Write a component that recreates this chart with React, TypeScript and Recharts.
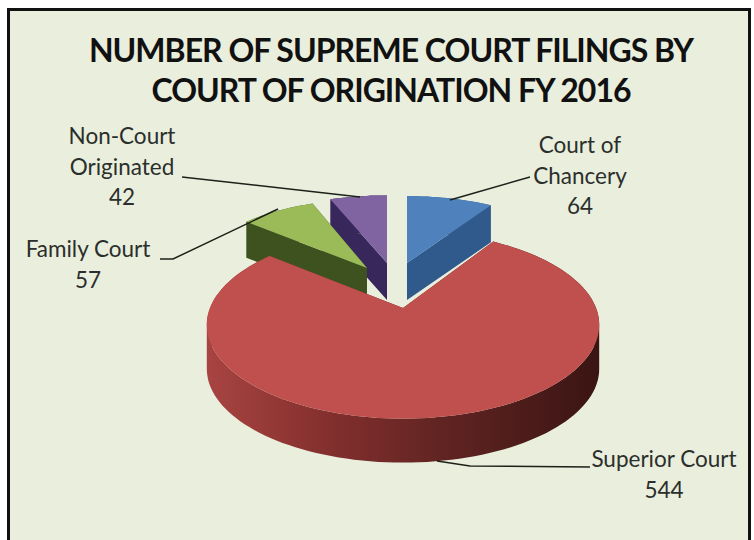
// SupremeCourtFilings.tsx
import { PieChart, Pie } from "recharts";

// order is the paint order, back slices first, superior court last
const categories = ["Court of Chancery", "Non-Court Originated", "Family Court", "Superior Court"];
const filings = [64, 42, 57, 544];
const colors = ["#4f81bd", "#8064a2", "#9bbb59", "#c0504d"];
const sideColors = ["#30598c", "#38275a", "#3e5220", "url(#redSide)"];
const labelLines = [["Court of", "Chancery"], ["Non-Court", "Originated"], ["Family Court"], ["Superior Court"]];

const data = categories.map((name, i) => ({ name, value: filings[i], index: i }));
const total = filings.reduce((a, b) => a + b, 0);
// blue starts at 12 o'clock and the pie runs clockwise, drawn here in reverse
const startAngle = 90 - (360 * filings[0]) / total;

// how each slice is pulled out of the pie
const explode = [
  { dx: 4, dy: -45, sx: 0.93, sy: 0.87, depth: 37 },
  { dx: -16, dy: -45, sx: 0.94, sy: 0.88, depth: 37 },
  { dx: -36, dy: -40, sx: 0.905, sy: 0.89, depth: 36 },
  { dx: 0, dy: 0, sx: 1, sy: 1, depth: 44 },
];

const labelPos = [
  { x: 580, y: 146, line: "530,177 450,200" },
  { x: 122, y: 137, line: "182,177 360,197" },
  { x: 88, y: 250, line: "160,259 173,259 278,209" },
  { x: 664, y: 460, line: "590,467 470,466 437,461" },
];

const TILT = 0.47;
const PERSPECTIVE = 0.18;

const toPath = (pts: number[][]) =>
  pts.map((p, i) => `${i ? "L" : "M"}${p[0].toFixed(1)} ${p[1].toFixed(1)}`).join(" ") + " Z";

function Slice3D(props: any) {
  const { cx, cy, outerRadius, startAngle: a0, endAngle: a1, fill, payload } = props;
  const ex = explode[payload.index];
  const project = (deg: number) => {
    const rad = (deg * Math.PI) / 180;
    const u = Math.cos(rad);
    const v = Math.sin(rad);
    const w = 1 + PERSPECTIVE * v;
    return [
      cx + ex.dx + (ex.sx * outerRadius * u) / w,
      cy + ex.dy - (ex.sy * outerRadius * TILT * v) / w,
    ];
  };
  const steps = Math.max(4, Math.ceil(Math.abs(a1 - a0) / 2));
  const outline = [[cx + ex.dx, cy + ex.dy]];
  for (let i = 0; i <= steps; i++) outline.push(project(a0 + ((a1 - a0) * i) / steps));

  // every edge pushed down by the depth, as one path so the gradient has no seams.
  // left to right edges keep their order, the others flip, so the quads all wind the same way
  const sides = outline
    .map((p, i) => {
      const q = outline[(i + 1) % outline.length];
      const [a, b] = p[0] <= q[0] ? [p, q] : [q, p];
      return toPath([a, b, [b[0], b[1] + ex.depth], [a[0], a[1] + ex.depth]]);
    })
    .join(" ");

  return (
    <g>
      <path d={sides} fill={sideColors[payload.index]} />
      <path d={toPath(outline)} fill={fill} />
    </g>
  );
}

function SliceLabel(props: any) {
  const i = props.payload?.index ?? props.index;
  const pos = labelPos[i];
  const lines = [...labelLines[i], String(filings[i])];
  return (
    <g>
      <polyline points={pos.line} fill="none" stroke="#1c2018" strokeWidth={1.5} />
      {lines.map((t, n) => (
        <text
          key={n}
          x={pos.x}
          y={pos.y + n * 30.5 + 7}
          textAnchor="middle"
          fontFamily="Lato, sans-serif"
          fontSize={22.5}
          fill="#2b2f2c"
        >
          {t}
        </text>
      ))}
    </g>
  );
}

export default function App() {
  return (
    <div style={{ position: "absolute", left: 0, top: 0, width: 754, height: 540, background: "#fff", overflow: "hidden" }}>
      <div
        style={{
          position: "absolute",
          left: 7,
          top: 8,
          width: 738,
          height: 560,
          background: "#eaeedd",
          border: "3px solid #111",
        }}
      />
      <div
        style={{
          position: "absolute",
          left: 0,
          top: 30,
          width: 782,
          textAlign: "center",
          fontFamily: "Lato, sans-serif",
          fontWeight: 700,
          fontSize: 32,
          lineHeight: "40px",
          color: "#111",
          letterSpacing: -1,
        }}
      >
        NUMBER OF SUPREME COURT FILINGS BY
        <br />
        COURT OF ORIGINATION FY 2016
      </div>
      <div style={{ position: "absolute", left: 0, top: 0 }}>
        <PieChart width={754} height={540} margin={{ top: 0, right: 0, bottom: 0, left: 0 }}>
          <defs>
            <linearGradient id="redSide" gradientUnits="userSpaceOnUse" x1={207} y1={0} x2={598} y2={0}>
              <stop offset="0%" stopColor="#a84441" />
              <stop offset="30%" stopColor="#84302e" />
              <stop offset="60%" stopColor="#612422" />
              <stop offset="100%" stopColor="#3a1513" />
            </linearGradient>
          </defs>
          <Pie
            data={data.map((d, i) => ({ ...d, fill: colors[i] }))}
            dataKey="value"
            nameKey="name"
            cx={403}
            cy={308}
            outerRadius={193}
            startAngle={startAngle}
            endAngle={startAngle + 360}
            paddingAngle={0}
            stroke="none"
            shape={Slice3D}
            label={SliceLabel}
            labelLine={false}
            isAnimationActive={false}
          />
        </PieChart>
      </div>
    </div>
  );
}
